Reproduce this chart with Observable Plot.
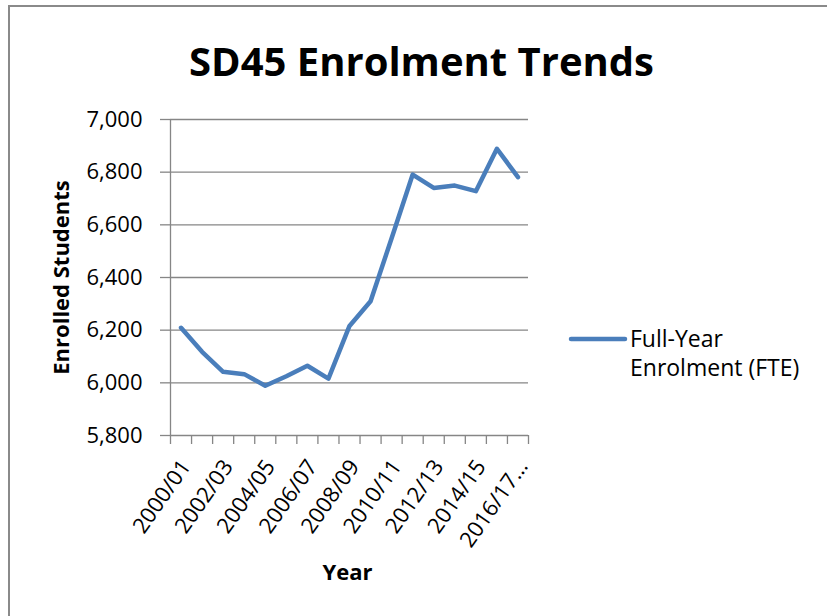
<!DOCTYPE html>
<html>
<head>
<meta charset="utf-8">
<script src="https://cdn.jsdelivr.net/npm/d3@7"></script>
<script src="https://cdn.jsdelivr.net/npm/@observablehq/plot@0.6"></script>
<style>
  html, body { margin: 0; padding: 0; background: #fff; }
  #wrap { position: relative; width: 827px; height: 616px; overflow: hidden; font-family: "Open Sans", sans-serif; }
  #deco, #chart { position: absolute; left: 0; top: 0; }
</style>
</head>
<body>
<div id="wrap">
  <svg id="deco" width="827" height="616"></svg>
  <div id="chart"></div>
</div>
<script>
// ---- data ----
const title = "SD45 Enrolment Trends";
const yTitle = "Enrolled Students";
const xTitle = "Year";
const seriesName = ["Full-Year", "Enrolment (FTE)"];
const categories = ["2000/01","2001/02","2002/03","2003/04","2004/05","2005/06","2006/07","2007/08",
  "2008/09","2009/10","2010/11","2011/12","2012/13","2013/14","2014/15","2015/16","2016/17…"];
const enrolment = [6209, 6118, 6042, 6033, 5989, 6025, 6065, 6016, 6216, 6310, 6549, 6791, 6740, 6749, 6728, 6889, 6781];
const yTicks = [5800, 6000, 6200, 6400, 6600, 6800, 7000];
const xTickLabels = ["2000/01","2002/03","2004/05","2006/07","2008/09","2010/11","2012/13","2014/15","2016/17…"];

// ---- derived tables ----
const n = categories.length;
const rows = categories.map((c, i) => ({cat: c, pos: i + 0.5, value: enrolment[i]}));
const boundaries = d3.range(n + 1);
const labelRows = rows.filter(r => xTickLabels.includes(r.cat));

const grid = "#868686";
const blue = "#4a7ebb";

const chart = Plot.plot({
  width: 827,
  height: 616,
  marginLeft: 170,
  marginRight: 299,
  marginTop: 119,
  marginBottom: 181,
  style: {fontFamily: "'Open Sans', sans-serif", color: "#000", background: "transparent"},
  x: {type: "linear", domain: [0, n], axis: null},
  y: {domain: [yTicks[0], yTicks[yTicks.length - 1]], axis: null},
  marks: [
    Plot.gridY(yTicks, {stroke: grid, strokeOpacity: 1, strokeWidth: 1.3}),
    Plot.axisY(yTicks, {tickSize: 10, tickPadding: 18, stroke: grid, strokeWidth: 1.3, fill: "#000",
      fontSize: 22, tickFormat: d3.format(","), label: null}),
    Plot.ruleX([0], {stroke: grid, strokeWidth: 1.3}),
    Plot.axisX(boundaries, {tickSize: 9, stroke: grid, strokeWidth: 1.3, tickFormat: () => "", label: null}),
    Plot.text(labelRows, {x: "pos", y: () => yTicks[0], text: "cat", rotate: -55, textAnchor: "end",
      lineAnchor: "middle", dx: 5, dy: 27, fontSize: 22, fill: "#000"}),
    Plot.lineY(rows, {x: "pos", y: "value", stroke: blue, strokeWidth: 4.5, strokeLinejoin: "round", strokeLinecap: "round"}),
    Plot.text([yTitle], {frameAnchor: "left", textAnchor: "middle", rotate: -90, dx: -109, lineAnchor: "middle",
      fontSize: 22, fontWeight: "bold", fill: "#000"}),
    Plot.text([xTitle], {frameAnchor: "bottom", textAnchor: "middle", dx: -2, dy: 137, lineAnchor: "middle",
      fontSize: 22, fontWeight: "bold", fill: "#000"}),
    Plot.text([title], {frameAnchor: "top", textAnchor: "middle", dx: 72, dy: -56, lineAnchor: "middle",
      fontSize: 40, fontWeight: "bold", fill: "#000"})
  ]
});
document.getElementById("chart").appendChild(chart);

// ---- border and legend ----
const deco = d3.select("#deco");
deco.append("rect").attr("x", 9).attr("y", 6).attr("width", 840).attr("height", 640)
  .attr("fill", "#fff").attr("stroke", "#8a8a8a").attr("stroke-width", 2);
const lg = d3.select(chart).append("g").attr("font-family", "'Open Sans', sans-serif")
  .attr("font-size", 23).attr("text-anchor", "start");
lg.append("line").attr("x1", 571).attr("x2", 625).attr("y1", 339).attr("y2", 339)
  .attr("stroke", blue).attr("stroke-width", 4.5).attr("stroke-linecap", "round");
lg.selectAll("text").data(seriesName).join("text")
  .attr("x", 630).attr("y", (d, i) => 347 + i * 29).attr("fill", "#000").text(d => d);
</script>
</body>
</html>
